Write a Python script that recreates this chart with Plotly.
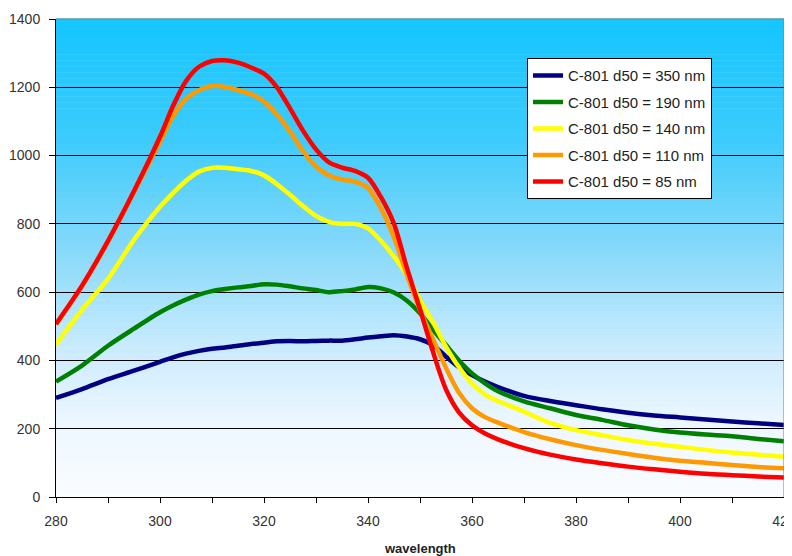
import plotly.graph_objects as go

wavelength = [280, 285, 290, 295, 300, 302.5, 305, 307.5, 310, 312.5, 315, 317.5, 320, 322.5,
              325, 327.5, 330, 332.5, 335, 337.5, 340, 342.5, 345, 347.5, 350, 352.5, 355,
              357.5, 360, 362.5, 365, 370, 375, 380, 385, 390, 395, 400, 405, 410, 415, 420]

d50_350 = [290, 316, 345, 370, 396, 409, 420, 428, 434, 438, 443, 448, 452, 456,
           457, 456, 457, 458, 458, 462, 467, 471, 474, 470, 462, 445, 411,
           380, 357, 338, 322, 296, 281, 269, 257, 247, 239, 233, 227, 221, 216, 211]

d50_190 = [338, 385, 443, 493, 541, 561, 578, 593, 603, 609, 614, 618, 623, 622,
           617, 611, 606, 600, 603, 608, 615, 611, 599, 575, 538, 490, 445,
           400, 362, 333, 310, 280, 260, 240, 226, 210, 198, 189, 183, 178, 170, 163]

d50_140 = [447, 548, 639, 753, 850, 890, 926, 953, 964, 964, 960, 955, 942, 916,
           885, 852, 823, 806, 800, 800, 787, 750, 704, 650, 577, 512, 440,
           380, 333, 300, 281, 250, 217, 196, 181, 167, 156, 147, 138, 130, 124, 118]

d50_110 = [505, 617, 748, 893, 1040, 1115, 1165, 1192, 1204, 1201, 1192, 1180, 1158, 1120,
           1070, 1013, 968, 942, 930, 924, 905, 845, 760, 650, 548, 462, 378,
           305, 260, 234, 218, 190, 169, 152, 138, 126, 115, 106, 100, 94, 88, 84]

d50_85 = [507, 619, 750, 896, 1055, 1145, 1218, 1260, 1277, 1279, 1272, 1258, 1240, 1200,
          1138, 1073, 1018, 980, 965, 955, 935, 878, 800, 670, 550, 425, 315,
          248, 210, 186, 169, 143, 124, 110, 99, 89, 81, 74, 68, 64, 60, 57]

series_names = ["C-801 d50 = 350 nm", "C-801 d50 = 190 nm", "C-801 d50 = 140 nm",
                "C-801 d50 = 110 nm", "C-801 d50 = 85 nm"]
series_values = [d50_350, d50_190, d50_140, d50_110, d50_85]
series_colors = ["#000080", "#008000", "#ffff00", "#ff9900", "#ff0000"]

y_ticks = [0, 200, 400, 600, 800, 1000, 1200, 1400]
x_ticks = [280, 300, 320, 340, 360, 380, 400, 420]
x_title = "wavelength"

fig = go.Figure()
for name, vals, col in zip(series_names, series_values, series_colors):
    fig.add_trace(go.Scatter(x=wavelength, y=vals, name=name, mode="lines",
                             line=dict(color=col, width=4.5, shape="spline", smoothing=0.8),
                             legendgroup=name))

# vertical gradient background (top cyan -> bottom almost white)
stops = [(0.0, (20, 198, 255)), (0.25, (60, 203, 252)), (0.5, (140, 218, 250)),
         (0.7, (205, 236, 253)), (0.85, (238, 247, 255)), (1.0, (250, 252, 255))]

def col_at(t):
    for (t0, c0), (t1, c1) in zip(stops[:-1], stops[1:]):
        if t0 <= t <= t1:
            f = (t - t0) / (t1 - t0)
            return tuple(round(a + (b - a) * f) for a, b in zip(c0, c1))
    return stops[-1][1]

shapes = []
n = 80
for i in range(n):
    t = (i + 0.5) / n
    c = col_at(t)
    shapes.append(dict(type="rect", xref="paper", yref="paper", x0=0, x1=1,
                       y0=1 - (i + 1) / n, y1=1 - i / n + 0.001, layer="below",
                       line=dict(width=0), fillcolor="rgb(%d,%d,%d)" % c))
shapes.append(dict(type="line", xref="paper", yref="paper", x0=0, x1=1, y0=1, y1=1,
                   line=dict(color="#808080", width=1)))
shapes.append(dict(type="line", xref="paper", yref="paper", x0=1, x1=1, y0=0, y1=1,
                   line=dict(color="#808080", width=1)))

# the page body adds an 8px offset, so the figure is sized to fit the 792x556 window
fig.update_layout(
    width=784, height=548,
    margin=dict(l=48, r=8, t=11, b=59),
    paper_bgcolor="white", plot_bgcolor="rgba(0,0,0,0)",
    font=dict(family="Liberation Sans, Arial, sans-serif", size=14, color="#333333"),
    shapes=shapes,
    showlegend=True,
    legend=dict(x=0.647, y=0.918, xanchor="left", yanchor="top",
                bgcolor="white", bordercolor="black", borderwidth=1,
                font=dict(size=15, color="#222222"), traceorder="grouped",
                tracegroupgap=4, itemwidth=30),
    xaxis=dict(range=[280, 420], tickvals=x_ticks, ticks="outside", ticklen=5,
               tickcolor="black", showline=True, linecolor="black", linewidth=1,
               showgrid=False, zeroline=False, ticklabelstandoff=6, automargin=False,
               ticklabeloverflow="allow", tickfont=dict(size=14),
               minor=dict(dtick=10, ticks="outside", ticklen=5, tickcolor="black", showgrid=False)),
    yaxis=dict(range=[0, 1400], tickvals=y_ticks, ticks="outside", ticklen=6,
               tickcolor="black", showline=True, linecolor="black", linewidth=1,
               showgrid=True, gridcolor="black", gridwidth=1, zeroline=False,
               ticklabelstandoff=6, automargin=False, tickfont=dict(size=14)),
    annotations=[dict(text="<b>" + x_title + "</b>", xref="paper", yref="paper",
                      x=0.5, y=-0.088, xanchor="center", yanchor="top", showarrow=False,
                      font=dict(size=13, color="#222222"))],
)

fig.write_html("out.html")
